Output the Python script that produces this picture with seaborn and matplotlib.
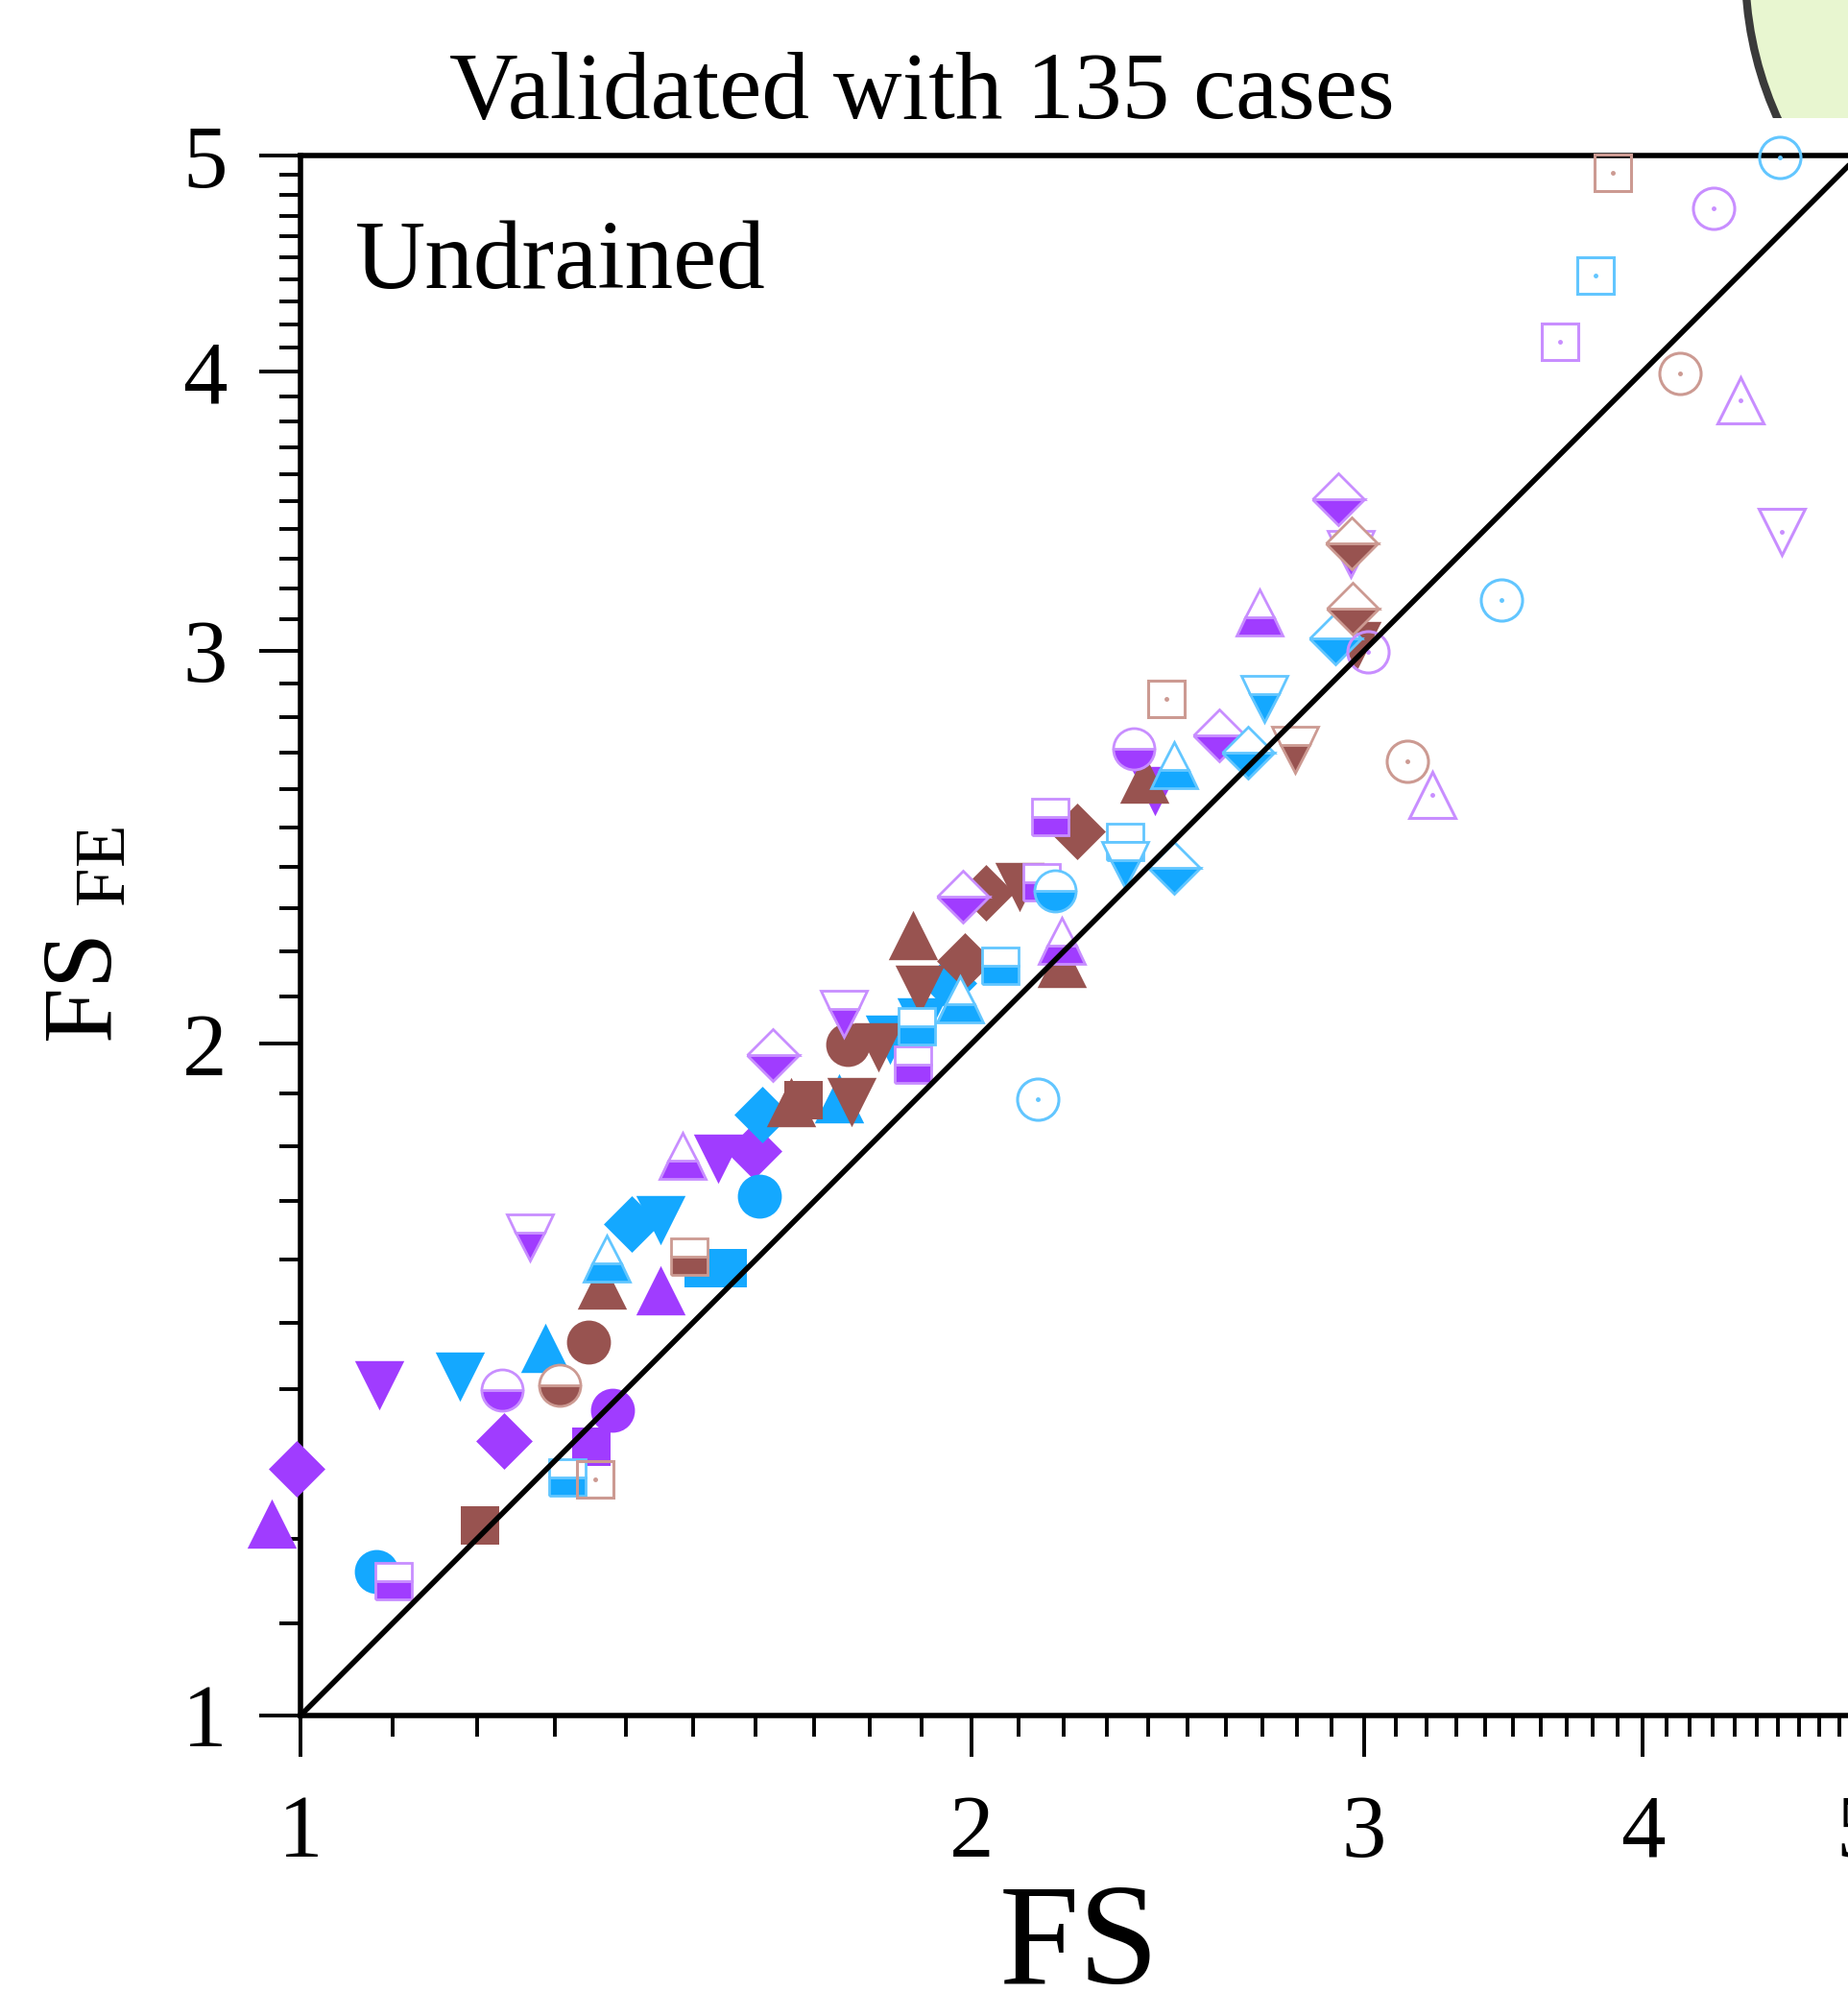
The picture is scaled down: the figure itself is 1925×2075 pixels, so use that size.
import numpy as np
import matplotlib
matplotlib.use('Agg')
import matplotlib.pyplot as plt
import seaborn as sns
from matplotlib.patches import Ellipse, Rectangle
from matplotlib.ticker import FixedLocator, FixedFormatter, NullFormatter

# FS (x) vs FS_FE (y)
# purple series
purple_full_x = [0.996, 0.971, 1.085, 1.234, 1.450, 1.539, 1.597, 1.380, 1.350, 2.417]
purple_full_y = [1.290, 1.219, 1.406, 1.328, 1.551, 1.776, 1.790, 1.370, 1.320, 2.596]
purple_full_m = ['D', '^', 'v', 'D', '^', 'v', 'D', 'o', 's', 'v']

purple_half_x = [1.231, 1.101, 1.267, 1.484, 1.629, 1.753, 1.883, 1.982, 2.150, 2.169,
                 2.195, 2.365, 2.583, 2.693, 2.921, 2.959]
purple_half_y = [1.399, 1.149, 1.637, 1.781, 1.977, 2.063, 1.957, 2.327, 2.362, 2.527,
                 2.224, 2.711, 2.749, 3.120, 3.508, 3.314]
purple_half_m = ['o', 's', 'v', '^', 'D', 'v', 's', 'D', 's', 's',
                 '^', 'o', 'D', '^', 'D', 'v']

purple_open_x = [3.012, 3.220, 4.305, 3.673, 4.426, 4.618]
purple_open_y = [2.997, 2.585, 4.734, 4.126, 3.884, 3.391]
purple_open_m = ['o', '^', 'o', 's', '^', 'v']

# blue series
blue_full_x = [1.081, 1.179, 1.288, 1.408, 1.450, 1.516, 1.554, 1.606, 1.611, 1.744,
               1.838, 1.899, 1.953]
blue_full_y = [1.160, 1.419, 1.461, 1.661, 1.667, 1.586, 1.586, 1.709, 1.859, 1.890,
               2.008, 2.045, 2.129]
blue_full_m = ['o', 'v', '^', 'D', 'v', 's', 's', 'o', 'D', '^', 'v', 'v', 'D']

blue_half_x = [1.372, 1.317, 1.890, 1.977, 2.061, 2.181, 2.344, 2.345, 2.466, 2.466,
               2.661, 2.706, 2.912]
blue_half_y = [1.602, 1.278, 2.036, 2.094, 2.167, 2.342, 2.463, 2.404, 2.398, 2.666,
               2.700, 2.854, 3.038]
blue_half_m = ['^', 's', 's', '^', 's', 'o', 's', 'v', 'D', '^', 'D', 'v', 'D']

blue_open_x = [2.142, 3.458, 3.811, 4.610]
blue_open_y = [1.888, 3.161, 4.418, 4.989]
blue_open_m = ['o', 'o', 's', 'o']

# brown series
brown_full_x = [1.204, 1.347, 1.365, 1.660, 1.681, 1.767, 1.760, 1.816, 1.883, 1.896,
                1.986, 2.030, 2.101, 2.195, 2.231, 2.391, 2.977]
brown_full_y = [1.217, 1.470, 1.560, 1.883, 1.887, 1.883, 1.998, 1.993, 2.237, 2.115,
                2.178, 2.337, 2.350, 2.174, 2.489, 2.630, 3.014]
brown_full_m = ['s', 'o', '^', '^', 's', 'v', 'o', 'v', '^', 'v',
                'D', 'D', 'v', '^', 'D', '^', 'v']

brown_half_x = [1.307, 1.494, 2.794, 2.962, 2.965]
brown_half_y = [1.406, 1.605, 2.708, 3.351, 3.133]
brown_half_m = ['o', 's', 'v', 'D', 'D']

brown_open_x = [1.356, 2.446, 3.137, 3.879, 4.158]
brown_open_y = [1.276, 2.854, 2.677, 4.912, 3.993]
brown_open_m = ['s', 's', 'o', 's', 'o']

one_to_one = [1, 5]
tick_values = [1, 2, 3, 4, 5]
tick_labels = ['1', '2', '3', '4', '5']
minor_values = [v / 10 for v in range(11, 50) if v % 10]

COLORS = {
    'purple': ('#A03CFF', '#C88EFF'),
    'blue': ('#14A8FF', '#62C6FF'),
    'brown': ('#985350', '#CC9A92'),
}
MS = {'o': 33, 's': 29, '^': 37, 'v': 37, 'D': 30}

sns.set_style('ticks')
plt.rcParams['font.family'] = ['Liberation Serif', 'DejaVu Serif']
plt.rcParams['mathtext.default'] = 'regular'

fig = plt.figure(figsize=(19.25, 20.75), dpi=100)
ax = fig.add_axes([0.1626, 0.1388, 0.8431, 0.7831])
ax.set_xscale('log')
ax.set_yscale('log')


def draw_full(xs, ys, ms, color):
    xs, ys, ms = np.array(xs), np.array(ys), np.array(ms)
    for m in MS:
        sel = ms == m
        if sel.any():
            sns.scatterplot(x=xs[sel], y=ys[sel], marker=m, s=MS[m] ** 2, color=color,
                            linewidth=0, clip_on=False, zorder=3, legend=False, ax=ax)


def draw_half(xs, ys, ms, color, light):
    xs, ys, ms = np.array(xs), np.array(ys), np.array(ms)
    for m in MS:
        sel = ms == m
        if sel.any():
            ax.plot(xs[sel], ys[sel], linestyle='none', marker=m, ms=MS[m] - 2,
                    fillstyle='bottom', markerfacecolor=color, markerfacecoloralt='white',
                    markeredgecolor=light, markeredgewidth=2, clip_on=False, zorder=4)


def draw_open(xs, ys, ms, light):
    xs, ys, ms = np.array(xs), np.array(ys), np.array(ms)
    for m in MS:
        sel = ms == m
        if sel.any():
            ax.plot(xs[sel], ys[sel], linestyle='none', marker=m, ms=MS[m] - 2,
                    markerfacecolor='none', markeredgecolor=light, markeredgewidth=2.2,
                    clip_on=False, zorder=5)
    ax.plot(xs, ys, linestyle='none', marker='o', ms=2.5, color=light,
            clip_on=False, zorder=5)


draw_full(purple_full_x, purple_full_y, purple_full_m, COLORS['purple'][0])
draw_full(blue_full_x, blue_full_y, blue_full_m, COLORS['blue'][0])
draw_full(brown_full_x, brown_full_y, brown_full_m, COLORS['brown'][0])
draw_half(purple_half_x, purple_half_y, purple_half_m, *COLORS['purple'])
draw_half(blue_half_x, blue_half_y, blue_half_m, *COLORS['blue'])
draw_half(brown_half_x, brown_half_y, brown_half_m, *COLORS['brown'])
draw_open(purple_open_x, purple_open_y, purple_open_m, COLORS['purple'][1])
draw_open(blue_open_x, blue_open_y, blue_open_m, COLORS['blue'][1])
draw_open(brown_open_x, brown_open_y, brown_open_m, COLORS['brown'][1])

# 1:1 line
ax.plot(one_to_one, one_to_one, color='black', linewidth=4, zorder=6)

ax.set_xlim(1, 5)
ax.set_ylim(1, 5)
for axis in (ax.xaxis, ax.yaxis):
    axis.set_major_locator(FixedLocator(tick_values))
    axis.set_major_formatter(FixedFormatter(tick_labels))
    axis.set_minor_locator(FixedLocator(minor_values))
    axis.set_minor_formatter(NullFormatter())

ax.tick_params(which='major', direction='out', length=31, width=2.8, color='black',
               labelsize=67, labelcolor='black')
ax.tick_params(which='minor', direction='out', length=16, width=2.8, color='black')
ax.tick_params(axis='y', which='major', pad=24)
ax.tick_params(axis='x', which='major', pad=28)

for side in ['left', 'bottom', 'top']:
    ax.spines[side].set_linewidth(4)
    ax.spines[side].set_color('black')
ax.spines['right'].set_visible(False)

ax.set_xlabel('FS', fontsize=108, color='black')
ax.xaxis.set_label_coords(0.5, -0.1075)
ax.set_ylabel('FS $_{FE}$', fontsize=75, color='black')
ax.yaxis.set_label_coords(-0.108, 0.5)

ax.text(0.035, 0.915, 'Undrained', transform=ax.transAxes, fontsize=73,
        ha='left', va='baseline', color='black')
fig.text(960 / 1925, 1 - 123 / 2075, 'Validated with 135 cases', fontsize=71.5,
         ha='center', va='baseline', color='black')

# piece of the neighbouring panel showing in the top-right corner
blob = Ellipse((2194 / 1925, 1 + 32 / 2075), 2 * 376 / 1925, 2 * 376 / 2075,
               transform=fig.transFigure, facecolor='#E8F6D0', edgecolor='#3A3A3A',
               linewidth=6)
fig.add_artist(blob)
blob.set_clip_path(Rectangle((0, 1 - 123 / 2075), 1, 123 / 2075,
                             transform=fig.transFigure))

fig.savefig('out.png', dpi=100, facecolor='white')
